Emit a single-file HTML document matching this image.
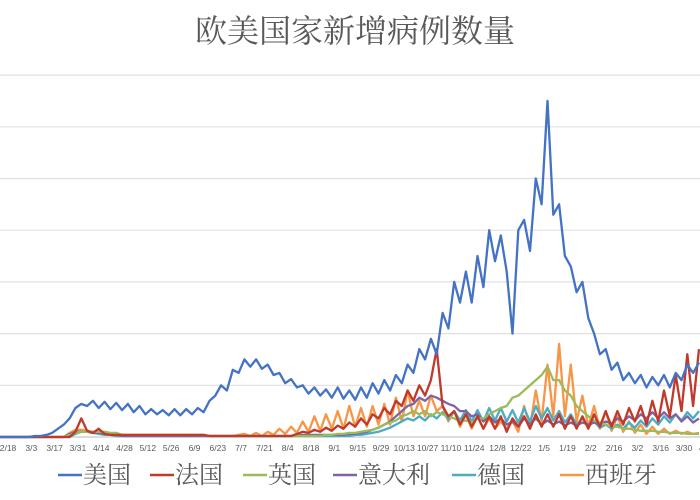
<!DOCTYPE html>
<html><head><meta charset="utf-8">
<style>
html,body{margin:0;padding:0;background:#fff;width:700px;height:500px;overflow:hidden}
svg{display:block}
</style></head>
<body>
<svg id="chart" width="700" height="500" xmlns="http://www.w3.org/2000/svg">
<text x="355" y="42" text-anchor="middle" font-family="'Liberation Serif','Noto Serif CJK SC',serif" font-size="32" fill="#595959">欧美国家新增病例数量</text>
<g id="grid"></g><g id="xlabels"></g><g id="series"></g><g id="legend"></g>
</svg>
<script>
const tickLabels=["2/18","3/3","3/17","3/31","4/14","4/28","5/12","5/26","6/9","6/23","7/7","7/21","8/4","8/18","9/1","9/15","9/29","10/13","10/27","11/10","11/24","12/8","12/22","1/5","1/19","2/2","2/16","3/2","3/16","3/30","4/13"];
const gridValues=[0,50,100,150,200,250,300,350];
const seriesNames=["美国","法国","英国","意大利","德国","西班牙"];
const usa=[0,0,0,0,0,0,1,1,2,4,8,12,18,28,32,30,35,28,34,27,33,26,32,24,30,22,27,22,26,21,27,21,27,22,28,24,35,40,50,45,65,62,75,68,75,66,70,60,62,52,56,48,50,42,48,40,46,38,48,37,45,36,48,38,52,42,55,45,60,52,70,62,85,75,95,80,120,105,150,130,160,130,175,145,200,170,195,160,100,200,210,180,250,225,325,215,225,175,165,140,150,115,100,80,85,65,72,55,62,52,60,48,58,50,60,48,62,55,70,62,72];
const france=[0,0,0,0,0,0,0,0,0,0,0,0,0,5,18,6,4,8,3,2,2,2,2,2,2,2,2,2,2,2,2,2,2,2,2,2,1,1,1,1,1,1,1,1,1,1,1,1,1,1,1,3,5,4,7,5,9,6,11,8,14,10,18,12,22,18,28,22,35,30,45,35,50,40,55,85,30,20,25,12,22,10,20,8,20,8,20,5,18,10,20,8,22,10,22,10,22,8,20,8,20,8,22,10,25,10,25,12,28,15,30,12,35,15,45,20,60,25,80,30,85];
const uk=[0,0,0,0,0,0,0,0,0,0,0,0,2,4,5,5,5,5,5,4,4,2,2,2,2,2,2,2,2,2,2,2,2,2,2,2,1,1,1,1,1,1,1,1,1,1,1,1,1,1,1,1,1,1,1,1,2,2,3,3,4,4,5,6,7,9,12,14,16,20,22,25,22,25,20,24,22,20,18,15,16,14,18,18,22,25,28,30,38,40,45,50,55,60,68,55,55,45,40,30,25,20,16,14,12,10,10,8,8,7,6,6,6,5,5,4,4,4,3,3,3];
const italy=[0,0,0,0,0,0,0,0,0,0,0,0,3,5,5,5,4,4,3,3,2,1,1,1,1,1,1,1,1,1,1,1,1,1,1,1,1,1,1,1,1,1,1,1,1,1,1,1,1,1,1,2,2,2,2,2,2,2,2,2,3,3,4,5,7,9,12,15,20,25,30,32,38,35,40,38,35,32,30,25,25,20,22,15,20,14,18,12,15,10,18,12,18,12,16,12,15,11,14,11,14,12,14,12,15,13,18,15,20,16,22,18,24,18,24,18,22,15,20,14,18];
const germany=[0,0,0,0,0,0,0,0,0,0,0,0,0,3,5,5,4,3,2,2,1,1,1,1,1,1,1,1,1,1,1,1,1,1,1,1,1,1,1,1,1,1,1,1,1,1,1,1,1,1,1,1,1,1,1,1,1,1,1,1,1,2,2,3,4,5,7,9,12,15,18,16,20,16,22,18,24,17,25,16,26,15,26,15,28,16,28,15,26,14,28,15,30,18,28,16,25,14,22,12,18,10,15,9,12,8,12,8,14,9,16,10,18,12,20,14,22,16,24,18,25];
const spain=[0,0,0,0,0,0,0,0,0,0,0,0,4,7,7,6,5,5,4,3,1,1,1,1,1,1,1,1,1,1,1,1,1,1,1,1,1,1,1,1,1,2,3,1,4,1,5,2,8,3,10,4,15,5,20,6,22,8,25,8,30,10,28,10,30,12,32,12,38,15,45,20,35,20,40,25,30,15,25,10,22,8,20,8,18,8,15,8,15,5,30,10,45,15,70,20,90,20,70,15,40,10,30,8,25,6,20,5,15,4,12,3,10,3,8,3,6,3,5,3,4];
const allSeries=[usa,france,uk,italy,germany,spain];
const colors=["#4472C4","#C0392B","#9BBB59","#8064A2","#4BACC6","#F79646"];
const NS="http://www.w3.org/2000/svg";
const X0=8,PXD=1.665,Y0=437,PXV=1.034,STEP=3.5,START=-5;
function xDay(d){return X0+d*PXD;}
function yVal(v){return Y0-v*PXV;}
const grid=document.getElementById('grid');
gridValues.forEach(v=>{const l=document.createElementNS(NS,'line');


l.setAttribute('x1',0);l.setAttribute('x2',700);l.setAttribute('y1',yVal(v));l.setAttribute('y2',yVal(v));
l.setAttribute('stroke',v===0?'#c8c8c8':'#e0e0e0');l.setAttribute('stroke-width',1.2);grid.appendChild(l);});
const xl=document.getElementById('xlabels');
tickLabels.forEach((t,k)=>{const e=document.createElementNS(NS,'text');


e.setAttribute('x',xDay(14*k));e.setAttribute('y',451);e.setAttribute('text-anchor','middle');
e.setAttribute('font-family','Liberation Sans, sans-serif');e.setAttribute('font-size','8.5');e.setAttribute('fill','#595959');e.textContent=t;xl.appendChild(e);});
const sg=document.getElementById('series');
[5,4,3,2,1,0].forEach(s=>{const p=document.createElementNS(NS,'polyline');


p.setAttribute('points',allSeries[s].map((v,i)=>xDay(START+i*STEP).toFixed(1)+','+yVal(v).toFixed(1)).join(' '));
p.setAttribute('fill','none');p.setAttribute('stroke',colors[s]);p.setAttribute('stroke-width',2.3);p.setAttribute('stroke-linejoin','round');sg.appendChild(p);});
const lg=document.getElementById('legend');
const lx=[58,150,243,333,452,560];
seriesNames.forEach((n,i)=>{const g=document.createElementNS(NS,'g');


const l=document.createElementNS(NS,'line');
l.setAttribute('x1',lx[i]);l.setAttribute('x2',lx[i]+24);l.setAttribute('y1',475);l.setAttribute('y2',475);l.setAttribute('stroke',colors[i]);l.setAttribute('stroke-width',2.5);g.appendChild(l);
const t=document.createElementNS(NS,'text');
t.setAttribute('x',lx[i]+25);t.setAttribute('y',483);t.setAttribute('font-family',"'Liberation Serif','Noto Serif CJK SC',serif");t.setAttribute('font-size','24');t.setAttribute('fill','#595959');t.textContent=n;g.appendChild(t);lg.appendChild(g);});
</script>
</body></html>
